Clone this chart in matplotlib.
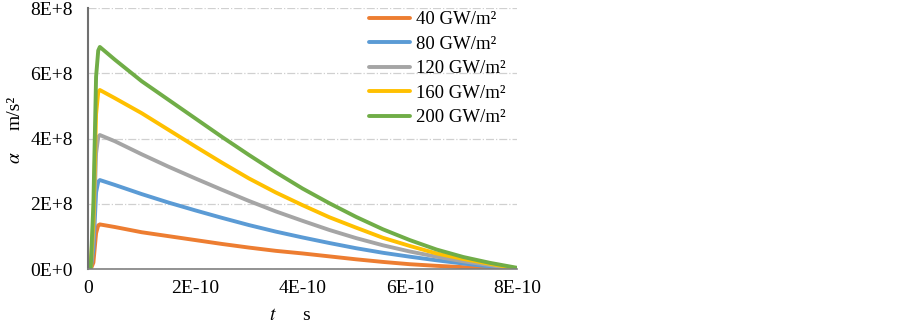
import matplotlib.pyplot as plt

plt.rcParams['font.family'] = ['Liberation Serif', 'DejaVu Serif']
plt.rcParams['mathtext.fontset'] = 'stix'

# time, in units of 1E-10 s
t = [0, 0.05, 0.10, 0.15, 0.19, 0.22, 0.5, 1.0, 1.5, 2.0, 2.5, 3.0, 3.5,
     4.0, 4.5, 5.0, 5.5, 6.0, 6.5, 7.0, 7.5, 8.0]

# acceleration, in units of 1E+8 m/s^2
a_40 = [0, 0, 0.2, 1.1, 1.34, 1.37, 1.29, 1.13, 1.01, 0.89, 0.77, 0.66, 0.56,
        0.48, 0.39, 0.30, 0.22, 0.15, 0.10, 0.06, 0.03, 0.0]
a_80 = [0, 0.02, 0.6, 2.35, 2.68, 2.73, 2.58, 2.30, 2.04, 1.80, 1.57, 1.35, 1.15,
        0.97, 0.80, 0.64, 0.50, 0.38, 0.27, 0.17, 0.08, 0.0]
a_120 = [0, 0.03, 1.0, 3.55, 4.05, 4.11, 3.92, 3.52, 3.14, 2.78, 2.43, 2.09, 1.77,
         1.48, 1.20, 0.95, 0.73, 0.54, 0.38, 0.24, 0.12, 0.0]
a_160 = [0, 0.04, 1.5, 4.75, 5.42, 5.49, 5.24, 4.78, 4.27, 3.76, 3.26, 2.78, 2.35,
         1.96, 1.59, 1.27, 0.96, 0.71, 0.48, 0.31, 0.16, 0.02]
a_200 = [0, 0.05, 2.0, 5.9, 6.7, 6.81, 6.42, 5.76, 5.19, 4.62, 4.05, 3.50, 2.97,
         2.47, 2.02, 1.60, 1.22, 0.89, 0.60, 0.37, 0.19, 0.04]

labels = ['40 GW/m²', '80 GW/m²', '120 GW/m²', '160 GW/m²', '200 GW/m²']
colors = ['#ED7D31', '#5B9BD5', '#A5A5A5', '#FFC000', '#70AD47']

xticks = [0, 2, 4, 6, 8]
xticklabels = ['0', '2E-10', '4E-10', '6E-10', '8E-10']
yticks = [0, 2, 4, 6, 8]
yticklabels = ['0E+0', '2E+8', '4E+8', '6E+8', '8E+8']

fig = plt.figure(figsize=(9.03, 3.25), dpi=100)
ax = fig.add_axes([0.0975, 0.172, 0.475, 0.803])

for ys, lab, c in zip([a_40, a_80, a_120, a_160, a_200], labels, colors):
    ax.plot(t, ys, color=c, lw=2.8, label=lab,
            solid_capstyle='round', solid_joinstyle='round')

ax.set_xlim(0, 8)
ax.set_ylim(0, 8)
ax.set_xticks(xticks)
ax.set_xticklabels(xticklabels)
ax.set_yticks(yticks)
ax.set_yticklabels(yticklabels)
ax.tick_params(axis='both', length=0, labelsize=14)
ax.tick_params(axis='y', pad=11)
ax.tick_params(axis='x', pad=8)

ax.yaxis.grid(True, color='#d0d0d0', linestyle='-.', lw=0.9)
ax.set_axisbelow(True)
for s in ['top', 'right']:
    ax.spines[s].set_visible(False)
ax.spines['left'].set_color('#707070')
ax.spines['left'].set_linewidth(1.5)
ax.spines['bottom'].set_color('#808080')
ax.spines['bottom'].set_linewidth(1.2)

ax.legend(loc='upper left', bbox_to_anchor=(0.655, 0.988), frameon=False,
          fontsize=13.5, handlelength=2.2, handletextpad=0.3, labelspacing=0.39,
          borderpad=0, borderaxespad=0)

# axis titles
fig.text(0.302, 0.016, '$t$', fontsize=14, ha='center')
fig.text(0.339, 0.016, 's', fontsize=14, ha='center')
fig.text(0.017, 0.515, r'$\alpha$', fontsize=14, rotation=90, va='center', ha='center')
fig.text(0.017, 0.652, 'm/s²', fontsize=14, rotation=90, va='center', ha='center')

fig.savefig('out.png', dpi=100)
